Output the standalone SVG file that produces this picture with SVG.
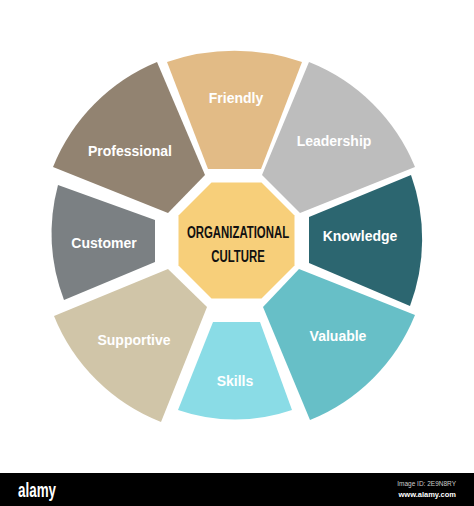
<svg xmlns="http://www.w3.org/2000/svg" width="474" height="506" viewBox="0 0 474 506">
<style>
.lbl{font-family:"Liberation Sans",Arial,sans-serif;font-weight:bold;font-size:14px;fill:#ffffff;text-anchor:middle}
.ctr{font-family:"Liberation Sans",Arial,sans-serif;font-weight:bold;font-size:17px;fill:#111111;text-anchor:middle}
</style>
<rect width="474" height="506" fill="#ffffff"/>
<g id="friendly"><path d="M208,169 L167,62 A210,210 0 0 1 302,62 L261,169 Z" fill="#E2BB86"/><text class="lbl" x="236" y="103">Friendly</text></g>
<g id="leadership"><path d="M262,175 L309,62 A190,190 0 0 1 415,167 L300,213 Z" fill="#BDBDBD"/><text class="lbl" x="334" y="146">Leadership</text></g>
<g id="knowledge"><path d="M309,217 L411,175 A190,190 0 0 1 410,306 L309,263 Z" fill="#2C6670"/><text class="lbl" x="360" y="241">Knowledge</text></g>
<g id="valuable"><path d="M299,269 L415,315 A190,190 0 0 1 310,420 L263,307 Z" fill="#67BFC7"/><text class="lbl" x="338" y="341">Valuable</text></g>
<g id="skills"><path d="M260,322 L292,410 A175,175 0 0 1 178,410 L213,322 Z" fill="#8ADCE6"/><text class="lbl" x="235" y="386">Skills</text></g>
<g id="supportive"><path d="M207,307 L161,422 A190,190 0 0 1 54,316 L168,269 Z" fill="#D0C5A8"/><text class="lbl" x="134" y="345">Supportive</text></g>
<g id="customer"><path d="M155,262 L64,300 A188,188 0 0 1 58,185 L155,220 Z" fill="#7B8083"/><text class="lbl" x="104" y="248">Customer</text></g>
<g id="professional"><path d="M168,213 L53,167 A190,190 0 0 1 157,62 L205,175 Z" fill="#928371"/><text class="lbl" x="130" y="156">Professional</text></g>
<g id="center"><polygon points="211.5,182.5 261.5,182.5 294.5,215.5 294.5,265.5 261.5,298.5 211.5,298.5 178.5,265.5 178.5,215.5" fill="#F7CF7A"/>
<text class="ctr" transform="translate(238,238) scale(0.67,1)" x="0" y="0">ORGANIZATIONAL</text>
<text class="ctr" transform="translate(238,262) scale(0.67,1)" x="0" y="0">CULTURE</text></g>
<g id="connectors"></g>
<g id="watermark-bar"><rect x="0" y="473" width="474" height="33" fill="#000000"/>
<text x="18" y="497" font-family="Liberation Sans,Arial,sans-serif" font-weight="bold" font-size="20" fill="#ffffff" textLength="38" lengthAdjust="spacingAndGlyphs">alamy</text>
<text x="456" y="486" font-family="Liberation Sans,Arial,sans-serif" font-size="6.5" fill="#cccccc" text-anchor="end">Image ID: 2E9N8RY</text>
<text x="456" y="497" font-family="Liberation Sans,Arial,sans-serif" font-weight="bold" font-size="7.5" fill="#ffffff" text-anchor="end">www.alamy.com</text></g>
</svg>
